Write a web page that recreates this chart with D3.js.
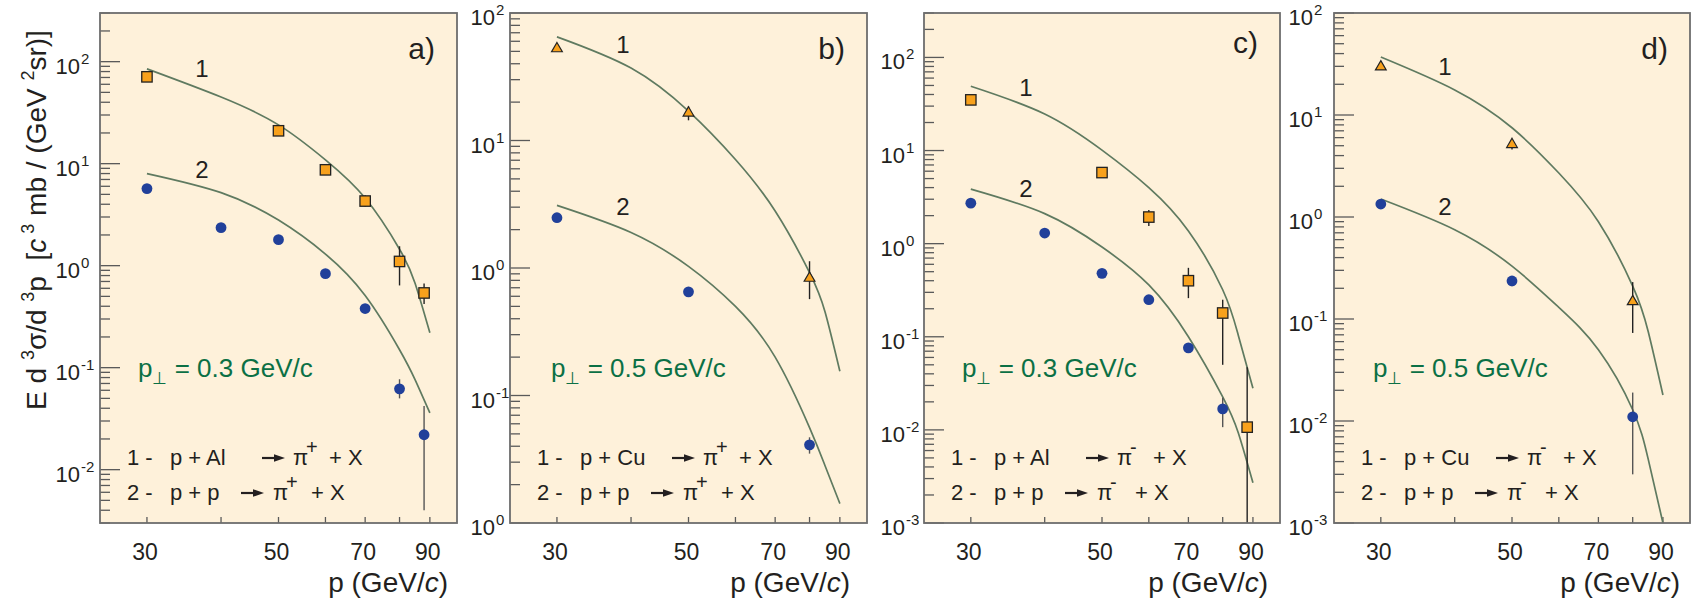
<!DOCTYPE html>
<html><head><meta charset="utf-8">
<script src="https://cdn.jsdelivr.net/npm/d3@7/dist/d3.min.js"></script>
<style>
body{margin:0;background:#fff}
svg{display:block}
text{font-family:"Liberation Sans",Arial,Helvetica,sans-serif;fill:#231f20}
</style>
</head><body>
<svg id="chart" width="1700" height="602"></svg>
<script>
// ---------------- DATA ----------------
const xTickValues = [30, 40, 50, 60, 70, 80, 90];
const xLabelValues = [30, 50, 70, 90];
const xTickLabels = ["30", "50", "70", "90"];
const curveP = [30, 40, 50, 60, 70, 80, 85, 90];

// panel a) p+Al / p+p -> pi+ , pT = 0.3
const aSym1P = [30, 50, 60, 70, 80, 88];
const aSym1V = [71, 21, 8.7, 4.3, 1.1, 0.54];
const aSym1Lo = [null, null, null, 3.8, 0.64, 0.42];
const aSym1Hi = [null, null, null, 4.9, 1.55, 0.67];
const aSym2P = [30, 40, 50, 60, 70, 80, 88];
const aSym2V = [5.7, 2.36, 1.8, 0.835, 0.38, 0.062, 0.022];
const aSym2Lo = [null, null, null, null, null, 0.050, 0.004];
const aSym2Hi = [null, null, null, null, null, 0.077, 0.042];
const aCurve1 = [85, 45, 24, 10.9, 4.6, 1.45, 0.67, 0.22];
const aCurve2 = [8.0, 5.2, 2.8, 1.3, 0.51, 0.15, 0.076, 0.036];
const aYTickValues = [0.01, 0.1, 1, 10, 100];
const aYTickExps = ["-2", "-1", "0", "1", "2"];

// panel b) p+Cu / p+p -> pi+ , pT = 0.5
const bSym1P = [30, 50, 80];
const bSym1V = [53, 16.6, 0.84];
const bSym1Lo = [null, 14.4, 0.57];
const bSym1Hi = [null, 18.5, 1.13];
const bSym2P = [30, 50, 80];
const bSym2V = [2.48, 0.65, 0.041];
const bSym2Lo = [null, null, 0.035];
const bSym2Hi = [null, null, 0.047];
const bCurve1 = [65, 37, 17, 7.1, 2.8, 0.92, 0.45, 0.155];
const bCurve2 = [3.1, 1.9, 1.03, 0.50, 0.20, 0.056, 0.028, 0.0142];
const bYTickValues = [0.01, 0.1, 1, 10, 100];
const bYTickExps = ["0", "-1", "0", "1", "2"];

// panel c) p+Al / p+p -> pi- , pT = 0.3
const cSym1P = [30, 50, 60, 70, 80, 88];
const cSym1V = [35, 5.8, 1.93, 0.40, 0.18, 0.0107];
const cSym1Lo = [null, null, 1.55, 0.26, 0.05, 0.001];
const cSym1Hi = [null, null, 2.3, 0.55, 0.25, 0.047];
const cSym2P = [30, 40, 50, 60, 70, 80];
const cSym2V = [2.72, 1.3, 0.48, 0.25, 0.076, 0.0168];
const cSym2Lo = [null, null, null, null, 0.068, 0.0107];
const cSym2Hi = [null, null, null, null, 0.082, 0.0222];
const cCurve1 = [49, 24.7, 10.1, 4.0, 1.37, 0.32, 0.104, 0.028];
const cCurve2 = [3.85, 2.1, 0.92, 0.36, 0.10, 0.0226, 0.0093, 0.0027];
const cYTickValues = [0.001, 0.01, 0.1, 1, 10, 100];
const cYTickExps = ["-3", "-2", "-1", "0", "1", "2"];

// panel d) p+Cu / p+p -> pi- , pT = 0.5
const dSym1P = [30, 50, 80];
const dSym1V = [30, 5.2, 0.15];
const dSym1Lo = [null, 4.6, 0.073];
const dSym1Hi = [null, null, 0.23];
const dSym2P = [30, 50, 80];
const dSym2V = [1.34, 0.236, 0.011];
const dSym2Lo = [null, 0.21, 0.003];
const dSym2Hi = [null, null, 0.019];
const dCurve1 = [37, 17.6, 7.5, 2.7, 0.9, 0.21, 0.075, 0.018];
const dCurve2 = [1.5, 0.75, 0.33, 0.13, 0.05, 0.0129, 0.0042, 0.001];
const dYTickValues = [0.001, 0.01, 0.1, 1, 10, 100];
const dYTickExps = ["-3", "-2", "-1", "0", "1", "2"];

const panelLetters = ["a)", "b)", "c)", "d)"];
const pTValues = ["0.3", "0.5", "0.3", "0.5"];
const targets = ["Al", "Cu", "Al", "Cu"];
const charges = ["+", "+", "-", "-"];
const yDomains = [[0.003, 300], [0.01, 100], [0.001, 300], [0.001, 100]];
const xDomain = [25, 100];

// ---------------- LAYOUT ----------------
const panelsLayout = [
  {l: 100, r: 457, tickEnd: 20, curveLblDx: 102, c1y: 77, c2y: 178, ptDx: 38, xlblDx: 9},
  {l: 510, r: 867, tickEnd: 15, curveLblDx: 113, c1y: 53, c2y: 215, ptDx: 41, xlblDx: 17},
  {l: 924, r: 1280, tickEnd: 19, curveLblDx: 102, c1y: 96, c2y: 197, ptDx: 38, xlblDx: 12},
  {l: 1334, r: 1690, tickEnd: 21, curveLblDx: 111, c1y: 75, c2y: 215, ptDx: 39, xlblDx: 10}
];
const plotTop = 13, plotBottom = 523;

const panels = [
  {s1: [aSym1P, aSym1V, aSym1Lo, aSym1Hi], s2: [aSym2P, aSym2V, aSym2Lo, aSym2Hi], c1: aCurve1, c2: aCurve2, yt: aYTickValues, ye: aYTickExps, shape: "square"},
  {s1: [bSym1P, bSym1V, bSym1Lo, bSym1Hi], s2: [bSym2P, bSym2V, bSym2Lo, bSym2Hi], c1: bCurve1, c2: bCurve2, yt: bYTickValues, ye: bYTickExps, shape: "triangle"},
  {s1: [cSym1P, cSym1V, cSym1Lo, cSym1Hi], s2: [cSym2P, cSym2V, cSym2Lo, cSym2Hi], c1: cCurve1, c2: cCurve2, yt: cYTickValues, ye: cYTickExps, shape: "square"},
  {s1: [dSym1P, dSym1V, dSym1Lo, dSym1Hi], s2: [dSym2P, dSym2V, dSym2Lo, dSym2Hi], c1: dCurve1, c2: dCurve2, yt: dYTickValues, ye: dYTickExps, shape: "triangle"}
];

const COL = {bg: "#fef1da", frame: "#6d6d6d", tick: "#5a5a5a", curve: "#5f7a60",
  orange: "#f8a11c", blue: "#21409a", green: "#0b7045", ink: "#231f20"};

const svg = d3.select("#chart");

panels.forEach((P, i) => {
  const L = panelsLayout[i];
  const x = d3.scaleLog().domain(xDomain).range([L.l, L.r]);
  const y = d3.scaleLog().domain(yDomains[i]).range([plotBottom, plotTop]);
  const g = svg.append("g");
  const clipId = "clip" + i;
  svg.append("clipPath").attr("id", clipId).append("rect")
    .attr("x", L.l).attr("y", plotTop).attr("width", L.r - L.l).attr("height", plotBottom - plotTop);

  g.append("rect").attr("x", L.l).attr("y", plotTop).attr("width", L.r - L.l).attr("height", plotBottom - plotTop)
    .attr("fill", COL.bg);

  // y minor / major ticks
  const [y0, y1] = yDomains[i];
  const minors = [];
  for (let e = Math.floor(Math.log10(y0)); e <= Math.ceil(Math.log10(y1)); e++) {
    for (let m = 1; m <= 9; m++) {
      const v = m * Math.pow(10, e);
      if (v >= y0 * 0.999 && v <= y1 * 1.001) minors.push({v, major: m === 1});
    }
  }
  g.selectAll(".yt").data(minors).join("line")
    .attr("x1", L.l).attr("x2", d => L.l + (d.major ? 20 : 10))
    .attr("y1", d => y(d.v)).attr("y2", d => y(d.v))
    .attr("stroke", COL.tick).attr("stroke-width", 1.3);

  // x ticks
  g.selectAll(".xt").data(xTickValues).join("line")
    .attr("x1", d => x(d)).attr("x2", d => x(d))
    .attr("y1", plotBottom).attr("y2", plotBottom - 6)
    .attr("stroke", COL.tick).attr("stroke-width", 1.3);

  // y tick labels
  P.yt.forEach((v, k) => {
    g.append("text").attr("x", L.l - L.tickEnd).attr("y", y(v) + 12)
      .attr("text-anchor", "end").attr("font-size", 22).attr("fill", "#333").text("10");
    g.append("text").attr("x", L.l - L.tickEnd + 1).attr("y", y(v) + 2)
      .attr("font-size", 15).attr("fill", "#333").text(P.ye[k]);
  });

  // x tick labels
  xLabelValues.forEach((v, k) => {
    g.append("text").attr("x", x(v) - 2).attr("y", 560).attr("text-anchor", "middle")
      .attr("font-size", 23).attr("fill", "#333").text(xTickLabels[k]);
  });

  // x axis title
  const xt = g.append("text").attr("x", L.r - L.xlblDx).attr("y", 592)
    .attr("text-anchor", "end").attr("font-size", 28).attr("fill", "#333");
  xt.append("tspan").text("p (GeV/");
  xt.append("tspan").attr("font-style", "italic").text("c");
  xt.append("tspan").text(")");

  // curves
  const line = d3.line().x((d, k) => x(curveP[k])).y(d => y(d)).curve(d3.curveNatural);
  const cg = g.append("g").attr("clip-path", `url(#${clipId})`);
  [P.c1, P.c2].forEach(c => {
    cg.append("path").attr("d", line(c)).attr("fill", "none")
      .attr("stroke", COL.curve).attr("stroke-width", 1.7);
  });

  // error bars
  const drawErr = (S, col) => {
    const [ps, vs, lo, hi] = S;
    ps.forEach((p, k) => {
      if (lo[k] === null && hi[k] === null) return;
      const a = lo[k] === null ? vs[k] : lo[k];
      const b = hi[k] === null ? vs[k] : hi[k];
      cg.append("line").attr("x1", x(p)).attr("x2", x(p))
        .attr("y1", y(a)).attr("y2", y(b)).attr("stroke", col).attr("stroke-width", 1.4);
    });
  };
  drawErr(P.s2, "#555");
  drawErr(P.s1, "#222");

  // series 2 circles
  const [p2, v2] = P.s2;
  cg.selectAll(".c2").data(v2).join("circle")
    .attr("cx", (d, k) => x(p2[k])).attr("cy", d => y(d)).attr("r", 5.4)
    .attr("fill", COL.blue);

  // series 1 squares / triangles
  const [p1, v1] = P.s1;
  if (P.shape === "square") {
    cg.selectAll(".s1").data(v1).join("rect")
      .attr("x", (d, k) => x(p1[k]) - 5.2).attr("y", d => y(d) - 5.2)
      .attr("width", 10.4).attr("height", 10.4)
      .attr("fill", COL.orange).attr("stroke", "#222").attr("stroke-width", 1.3);
  } else {
    const tri = d3.symbol().type(d3.symbolTriangle).size(50);
    cg.selectAll(".s1").data(v1).join("path")
      .attr("d", tri).attr("transform", (d, k) => `translate(${x(p1[k])},${y(d) + 0.5})`)
      .attr("fill", COL.orange).attr("stroke", "#222").attr("stroke-width", 1.2);
  }

  // frame
  g.append("rect").attr("x", L.l).attr("y", plotTop).attr("width", L.r - L.l).attr("height", plotBottom - plotTop)
    .attr("fill", "none").attr("stroke", COL.frame).attr("stroke-width", 1.8);

  // panel letter
  g.append("text").attr("x", L.r - 22).attr("y", i === 2 ? 53 : 59).attr("text-anchor", "end")
    .attr("font-size", 30).text(panelLetters[i]);

  // curve labels
  g.append("text").attr("x", L.l + L.curveLblDx).attr("y", L.c1y).attr("text-anchor", "middle")
    .attr("font-size", 24).text("1");
  g.append("text").attr("x", L.l + L.curveLblDx).attr("y", L.c2y).attr("text-anchor", "middle")
    .attr("font-size", 24).text("2");

  // pT label
  const pt = g.append("text").attr("x", L.l + L.ptDx).attr("y", 377).attr("font-size", 26)
    .style("fill", COL.green);
  pt.append("tspan").text("p");
  pt.append("tspan").attr("font-size", 17).attr("dy", 7).text("⊥");
  pt.append("tspan").attr("dy", -7).text(" = " + pTValues[i] + " GeV/c");

  // reactions legend
  const rows = [
    {pre: "1 -", reac: "p + " + targets[i], base: 465, a0: 162, a1: 185, pi: 193, rest: 229},
    {pre: "2 -", reac: "p + p", base: 500, a0: 141, a1: 164, pi: 173, rest: 211}
  ];
  rows.forEach(R => {
    g.append("text").attr("x", L.l + 27).attr("y", R.base).attr("font-size", 22).text(R.pre);
    g.append("text").attr("x", L.l + 70).attr("y", R.base).attr("font-size", 22).text(R.reac);
    const ay = R.base - 7;
    g.append("line").attr("x1", L.l + R.a0).attr("x2", L.l + R.a1 - 8)
      .attr("y1", ay).attr("y2", ay).attr("stroke", COL.ink).attr("stroke-width", 2.2);
    g.append("path").attr("d", `M${L.l + R.a1 - 11},${ay - 3.8}L${L.l + R.a1},${ay}L${L.l + R.a1 - 11},${ay + 3.8}Z`)
      .attr("fill", COL.ink);
    g.append("text").attr("x", L.l + R.pi).attr("y", R.base).attr("font-size", 22).text("π");
    g.append("text").attr("x", L.l + R.pi + 13).attr("y", R.base - 11).attr("font-size", 20)
      .text(charges[i] === "-" ? "-" : "+");
    g.append("text").attr("x", L.l + R.rest).attr("y", R.base).attr("font-size", 22).text("+ X");
  });
});

// y axis title (panel a)
const yl = svg.append("text").attr("transform", "translate(46,220) rotate(-90)")
  .attr("text-anchor", "middle").attr("font-size", 28).attr("fill", "#333");
yl.append("tspan").text("E d ");
yl.append("tspan").attr("font-size", 18).attr("dy", -12).text("3");
yl.append("tspan").attr("dy", 12).text("σ/d ");
yl.append("tspan").attr("font-size", 18).attr("dy", -12).text("3");
yl.append("tspan").attr("dy", 12).text("p\u00a0\u00a0[");
yl.append("tspan").attr("font-style", "italic").text("c");
yl.append("tspan").attr("font-size", 18).attr("dy", -12).text("\u00a03");
yl.append("tspan").attr("dy", 12).text(" mb / (GeV ");
yl.append("tspan").attr("font-size", 18).attr("dy", -12).text("2");
yl.append("tspan").attr("dy", 12).text("sr)]");
</script>
</body></html>
